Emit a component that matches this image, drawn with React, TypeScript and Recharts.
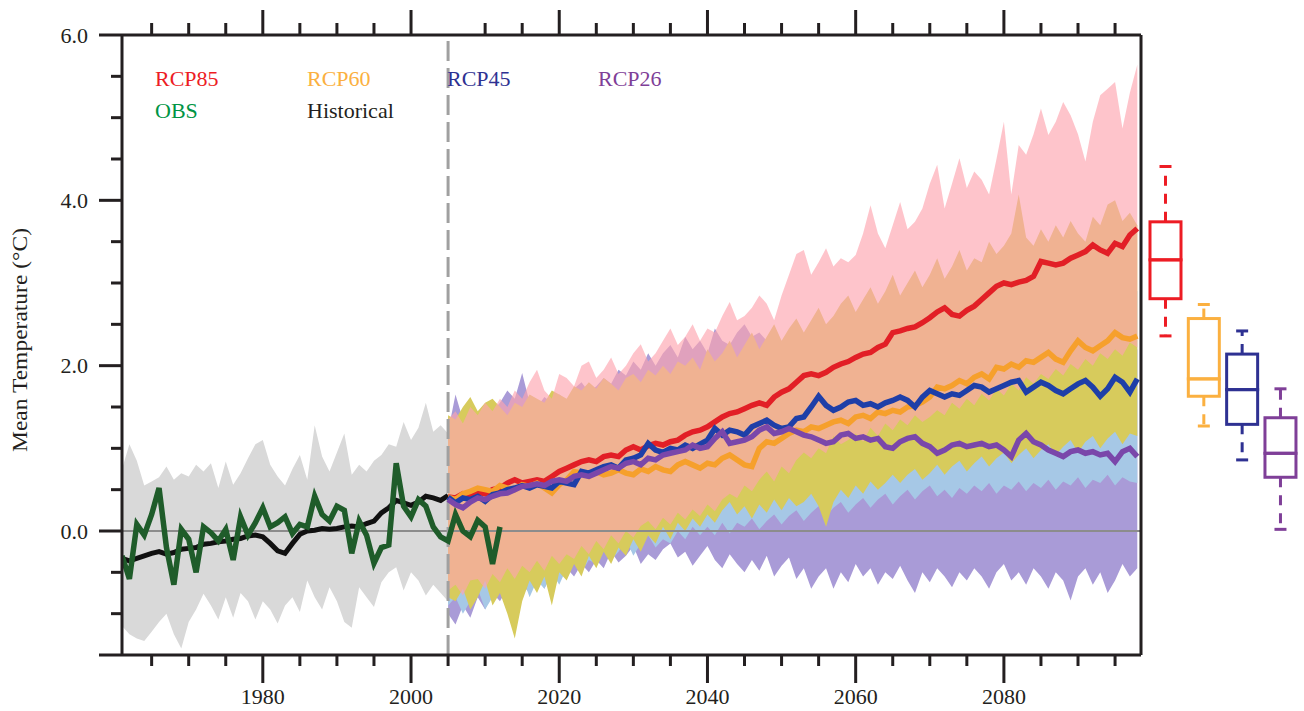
import React from "react";
import { Area, Bar, ComposedChart, Line, ReferenceLine, XAxis, YAxis } from "recharts";

const W = 1304;
const H = 711;
const FONT = '"Liberation Serif", "Times New Roman", serif';
const INK = "#231f20";

// ---- data -------------------------------------------------------------
const HIST_START = 1961; // historical run and its spread
const OBS_START = 1961;
const FUT_START = 2005; // RCP scenarios

const histMean = [
  -0.33, -0.36, -0.33, -0.3, -0.27, -0.25, -0.28, -0.26, -0.22, -0.21,
  -0.2, -0.16, -0.15, -0.13, -0.12, -0.1, -0.09, -0.06, -0.05, -0.07,
  -0.15, -0.24, -0.27, -0.15, -0.04, 0.0, 0.01, 0.03, 0.02, 0.03,
  0.05, 0.06, 0.05, 0.09, 0.12, 0.22, 0.28, 0.37, 0.34, 0.31,
  0.35, 0.42, 0.4, 0.37, 0.43,
];
const histHigh = [
  0.75, 1.05, 0.85, 0.55, 0.6, 0.65, 0.78, 0.62, 0.7, 0.66,
  0.8, 0.72, 0.82, 0.52, 0.84, 0.56, 0.7, 0.88, 1.05, 1.1,
  0.8, 0.66, 0.55, 0.75, 0.92, 0.62, 1.28, 0.9, 0.72, 0.95,
  1.18, 0.68, 0.8, 0.72, 0.85, 0.92, 1.05, 1.02, 1.32, 1.1,
  1.25, 1.55, 1.2, 1.28, 1.18,
];
const histLow = [
  -1.15, -1.25, -1.3, -1.33, -1.22, -1.1, -1.0, -1.25, -1.42, -1.1,
  -0.95, -0.76, -0.9, -1.07, -0.8, -1.05, -0.75, -0.85, -1.07, -0.85,
  -0.95, -1.12, -0.9, -0.8, -0.98, -0.6, -0.8, -0.95, -0.68, -0.85,
  -1.1, -1.17, -0.68, -0.8, -0.92, -0.62, -0.5, -0.44, -0.72, -0.5,
  -0.6, -0.78, -0.65, -0.75, -0.85,
];
const obs = [
  -0.3, -0.58, 0.08, -0.05, 0.2, 0.52, -0.2, -0.65, 0.02, -0.1,
  -0.5, 0.05, -0.02, -0.12, 0.02, -0.35, 0.17, -0.05, 0.1, 0.28,
  0.05, 0.1, 0.17, -0.03, 0.08, 0.05, 0.42, 0.2, 0.12, 0.3,
  0.25, -0.27, 0.12, -0.05, -0.39, -0.2, -0.17, 0.82, 0.3, 0.17,
  0.38, 0.3, 0.05, -0.07, -0.12, 0.2, 0.0, -0.07, 0.13, 0.05,
  -0.4, 0.05,
];

const rcp85 = [
  0.41, 0.4, 0.45, 0.42, 0.47, 0.45, 0.5, 0.52, 0.58, 0.62,
  0.58, 0.6, 0.62, 0.6, 0.66, 0.72, 0.76, 0.8, 0.84, 0.86,
  0.84, 0.9, 0.92, 0.9, 0.98, 1.02, 0.98, 1.03, 1.06, 1.04,
  1.08, 1.1, 1.16, 1.2, 1.22, 1.26, 1.32, 1.38, 1.42, 1.44,
  1.48, 1.52, 1.55, 1.52, 1.62, 1.68, 1.72, 1.8, 1.88, 1.9,
  1.88, 1.92, 1.98, 2.02, 2.05, 2.1, 2.14, 2.16, 2.22, 2.26,
  2.4, 2.42, 2.45, 2.47, 2.52, 2.58, 2.65, 2.7, 2.62, 2.6,
  2.67, 2.72, 2.8, 2.88, 2.96, 3.0, 2.98, 3.01, 3.03, 3.08,
  3.26, 3.24, 3.22, 3.24, 3.3, 3.34, 3.38, 3.46, 3.4, 3.36,
  3.48, 3.44, 3.58, 3.66,
];
const rcp60 = [
  0.41, 0.38, 0.45, 0.48, 0.52, 0.5, 0.48, 0.55, 0.52, 0.5,
  0.56, 0.54, 0.58, 0.52, 0.46, 0.56, 0.62, 0.72, 0.7, 0.66,
  0.72, 0.68, 0.7, 0.74, 0.7, 0.68, 0.75, 0.72, 0.78, 0.74,
  0.72, 0.8, 0.84, 0.8, 0.76, 0.82, 0.8, 0.88, 0.92, 0.86,
  0.8, 0.78, 1.0, 1.08, 1.06, 1.12, 1.18, 1.22, 1.2, 1.26,
  1.24, 1.28, 1.32, 1.34, 1.3, 1.38, 1.4, 1.36, 1.44, 1.42,
  1.46, 1.44, 1.5, 1.52, 1.56, 1.62, 1.74, 1.72, 1.76, 1.82,
  1.78, 1.86, 1.9, 1.84, 1.98, 1.96, 2.02, 1.98, 2.06, 2.04,
  2.1, 2.16, 2.08, 2.04, 2.18, 2.3, 2.22, 2.18, 2.24, 2.3,
  2.4, 2.34, 2.32, 2.36,
];
const rcp45 = [
  0.41, 0.34, 0.4, 0.38, 0.42, 0.36, 0.44, 0.46, 0.5, 0.52,
  0.55, 0.52, 0.56, 0.54, 0.52, 0.6, 0.58, 0.56, 0.72, 0.7,
  0.74, 0.78, 0.8, 0.76, 0.86, 0.88, 0.92, 1.06, 0.98, 0.95,
  1.0, 0.98, 1.04, 1.0, 1.05, 1.1, 1.24, 1.16, 1.22, 1.2,
  1.16, 1.26, 1.3, 1.34, 1.28, 1.24, 1.26, 1.36, 1.38, 1.5,
  1.63, 1.52, 1.46, 1.5, 1.56, 1.58, 1.52, 1.54, 1.5, 1.55,
  1.58, 1.62, 1.58, 1.5, 1.62, 1.7, 1.66, 1.62, 1.66, 1.64,
  1.7, 1.76, 1.74, 1.68, 1.72, 1.76, 1.8, 1.82, 1.68, 1.74,
  1.8, 1.76, 1.7, 1.66, 1.72, 1.78, 1.82, 1.74, 1.63, 1.72,
  1.86, 1.8, 1.68, 1.84,
];
const rcp26 = [
  0.38, 0.32, 0.28, 0.35, 0.4, 0.38, 0.42, 0.45, 0.46, 0.5,
  0.54, 0.55, 0.57, 0.55, 0.6, 0.62, 0.6, 0.66, 0.68, 0.66,
  0.7, 0.74, 0.78, 0.76, 0.82, 0.84, 0.8, 0.88, 0.86, 0.92,
  0.94, 0.96, 0.98, 1.04, 1.0, 1.02, 1.12, 1.2, 1.06, 1.08,
  1.1, 1.14, 1.22, 1.26, 1.18, 1.2, 1.24, 1.2, 1.16, 1.14,
  1.1, 1.06, 1.08, 1.16, 1.18, 1.12, 1.14, 1.1, 1.12, 1.02,
  1.0, 1.08, 1.12, 1.14, 1.06, 1.02, 0.94, 0.98, 1.04, 1.06,
  1.02, 1.04, 1.06, 1.02, 1.04, 0.98, 0.9, 1.1, 1.18, 1.08,
  1.04, 0.98, 0.94, 0.9, 0.96, 0.98, 0.94, 0.96, 0.92, 0.94,
  0.84, 0.96, 1.0, 0.9,
];

const rcp85High = [
  1.35, 1.45, 1.3, 1.5, 1.4, 1.55, 1.45, 1.6, 1.5, 1.7,
  1.6, 1.8, 1.95, 1.7, 1.6, 1.9, 1.85, 1.75, 2.0, 2.05,
  1.85, 1.95, 2.1, 1.9, 2.0, 2.15, 2.26, 2.05, 2.15, 2.3,
  2.45, 2.25, 2.35, 2.5, 2.3, 2.45, 2.4, 2.6, 2.77, 2.55,
  2.6, 2.7, 2.85, 2.75, 2.55, 2.85, 3.1, 3.35, 3.4, 3.1,
  3.25, 3.42, 3.2, 3.3, 3.25, 3.34, 3.6, 3.94, 3.6, 3.42,
  3.7, 3.98, 3.65, 3.74, 3.9, 4.2, 4.43, 3.9, 4.2, 4.51,
  4.15, 4.35, 4.25, 4.07, 4.5, 4.95, 4.07, 4.67, 4.55, 4.8,
  5.11, 4.79, 4.95, 5.19, 5.03, 4.8, 4.47, 4.95, 5.27, 5.35,
  5.43, 4.87, 5.3, 5.64,
];
const rcp85Low = [
  -0.72, -0.65, -0.78, -0.6, -0.58, -0.7, -0.52, -0.62, -0.45, -0.58,
  -0.42, -0.5, -0.36, -0.48, -0.3, -0.4, -0.28, -0.34, -0.18, -0.28,
  -0.12, -0.22, -0.05, -0.15, 0.0, -0.08, 0.06, 0.12, 0.02, 0.16,
  0.08, 0.22, 0.14, 0.26, 0.18, 0.32, 0.24, 0.38, 0.45, 0.4,
  0.55, 0.48, 0.62, 0.72, 0.6, 0.78, 0.7, 0.86, 0.95, 0.88,
  1.0, 0.94, 1.15, 1.05, 1.1, 1.18, 1.08, 1.25, 1.15, 1.3,
  1.22, 1.35, 1.28, 1.4, 1.32, 1.38, 1.46, 1.4, 1.55, 1.48,
  1.6, 1.52, 1.66, 1.58, 1.72, 1.64, 1.78, 1.7, 1.86, 1.78,
  1.9, 1.84, 1.96, 1.88, 2.02, 1.95, 2.08, 2.0, 2.15, 2.08,
  2.2, 2.12, 2.28, 2.22,
];
const rcp60High = [
  1.4, 1.35, 1.5, 1.62, 1.45, 1.55, 1.6, 1.5, 1.4, 1.55,
  1.5, 1.65, 1.6, 1.55, 1.7, 1.65, 1.6, 1.75, 1.7, 1.8,
  1.72, 1.85, 1.78, 1.7, 1.85, 1.9, 1.8, 1.95, 1.88, 2.0,
  1.9, 2.05, 2.0, 2.1, 1.95, 2.2, 2.05, 2.15, 2.3, 2.1,
  2.25, 2.4, 2.2, 2.35, 2.5, 2.3, 2.45, 2.57, 2.4, 2.55,
  2.7, 2.5, 2.6, 2.75, 2.85, 2.65, 2.8, 2.95, 2.75, 2.9,
  3.1, 2.85, 3.0, 3.15, 2.95, 3.1, 3.3, 3.05, 3.2, 3.4,
  3.15, 3.3, 3.25, 3.5, 3.35, 3.45, 3.6, 4.07, 3.55, 3.45,
  3.65, 3.5, 3.7, 3.55, 3.75, 3.6, 3.5, 3.8, 3.7, 3.95,
  4.0, 3.75, 3.85, 3.7,
];
const rcp60Low = [
  -0.8, -0.85, -0.7, -0.95, -0.8, -0.6, -0.9, -0.75, -1.0, -1.3,
  -0.85, -0.6, -0.75, -0.55, -0.9, -0.5, -0.6, -0.4, -0.55, -0.3,
  -0.45, -0.25, -0.4, -0.2, -0.3, -0.1, -0.25, -0.05, -0.15, 0.05,
  -0.1, 0.1, 0.0, 0.15, 0.05, 0.2, 0.1, 0.25, 0.35, 0.2,
  0.3, 0.15, 0.32, 0.22, 0.38, 0.25, 0.4, 0.3, 0.35, 0.45,
  0.3, 0.05, 0.35, 0.5, 0.4, 0.55, 0.45, 0.6, 0.5, 0.58,
  0.68, 0.58, 0.68, 0.75, 0.62, 0.7, 0.8, 0.68, 0.78, 0.85,
  0.72, 0.82, 0.9, 0.78, 0.88, 0.95, 0.82, 0.92, 1.0, 0.88,
  0.98, 1.05, 0.92, 1.02, 1.1, 0.95, 1.08, 1.15, 1.0, 1.12,
  1.2, 1.05, 1.18, 1.15,
];
const rcp45High = [
  1.25, 1.3, 1.2, 1.45, 1.35, 1.4, 1.5, 1.3, 1.25, 1.4,
  1.35, 1.45, 1.4, 1.35, 1.5, 1.45, 1.4, 1.55, 1.5, 1.6,
  1.5, 1.65, 1.55, 1.5, 1.6, 1.7, 1.6, 1.7, 1.65, 1.75,
  1.65, 1.8, 1.75, 1.85, 1.7, 1.9, 1.8, 1.9, 2.0, 1.85,
  1.95, 2.05, 1.95, 2.05, 2.15, 2.0, 2.1, 2.2, 2.1, 2.2,
  2.3, 2.15, 2.25, 2.3, 2.4, 2.25, 2.35, 2.45, 2.3, 2.4,
  2.55, 2.4, 2.5, 2.6, 2.45, 2.55, 2.65, 2.5, 2.6, 2.7,
  2.55, 2.65, 2.6, 2.75, 2.65, 2.7, 2.8, 2.9, 2.75, 2.7,
  2.85, 2.75, 2.9, 2.8, 2.95, 2.85, 2.75, 2.95, 2.9, 3.05,
  3.1, 2.95, 3.0, 2.9,
];
const rcp45Low = [
  -0.9, -0.8, -1.0, -0.85, -0.7, -0.95, -0.8, -0.65, -0.85, -0.7,
  -0.55, -0.8, -0.6, -0.7, -0.5, -0.65, -0.45, -0.3, -0.5, -0.35,
  -0.4, -0.2, -0.35, -0.25, -0.1, -0.3, -0.15, -0.05, -0.2, -0.1,
  -0.15, 0.0, -0.1, 0.05, -0.05, 0.05, -0.05, 0.1, -0.03, 0.1,
  0.05, 0.15, 0.02, 0.12, 0.2, 0.08, 0.18, 0.25, 0.12, 0.22,
  0.3, 0.18, 0.28, 0.35, 0.22, 0.32, 0.4, 0.28, 0.38, 0.45,
  0.32, 0.42, 0.5, 0.38, 0.48, 0.55, 0.42, 0.5, 0.4, 0.52,
  0.45, 0.55, 0.48, 0.58, 0.45, 0.55, 0.5, 0.6, 0.48, 0.58,
  0.52, 0.62, 0.5, 0.6, 0.55, 0.65, 0.52, 0.62, 0.58, 0.68,
  0.55, 0.65, 0.6, 0.58,
];
const rcp26High = [
  1.2, 1.65, 1.35, 1.4, 1.3, 1.5, 1.45, 1.55, 1.7, 1.6,
  1.91, 1.55, 1.5, 1.62, 1.55, 1.65, 1.58, 1.72, 1.8, 1.68,
  1.75, 1.85, 1.78, 1.95, 1.88, 2.05, 1.95, 2.15, 2.0, 2.15,
  2.25, 2.1, 2.35, 2.2, 2.3, 2.15, 2.45, 2.3, 2.25, 2.4,
  2.5, 2.35, 2.4, 2.3, 2.35, 2.25, 2.4, 2.3, 2.2, 2.35,
  2.35, 2.25, 2.4, 2.3, 2.2, 2.3, 2.25, 2.35, 2.2, 2.3,
  2.25, 2.15, 2.3, 2.2, 2.25, 2.1, 2.2, 2.3, 2.15, 2.25,
  2.2, 2.3, 2.15, 2.25, 2.2, 2.1, 2.25, 2.35, 2.2, 2.15,
  2.25, 2.2, 2.1, 2.3, 2.2, 2.15, 2.25, 2.2, 2.3, 2.15,
  2.2, 2.25, 2.1, 2.2,
];
const rcp26Low = [
  -1.0, -1.13, -0.9, -1.05, -0.8, -0.95, -0.75, -0.85, -0.7, -0.9,
  -0.65, -0.75, -0.55, -0.7, -0.5, -0.6, -0.45, -0.55, -0.4, -0.5,
  -0.35, -0.45, -0.25, -0.38, -0.3, -0.18, -0.4, -0.28, -0.35, -0.22,
  -0.15, -0.32, -0.25, -0.42, -0.3, -0.18, -0.35, -0.45, -0.28, -0.4,
  -0.5, -0.35, -0.48, -0.3, -0.55, -0.42, -0.32, -0.58, -0.45, -0.7,
  -0.55, -0.45, -0.7, -0.5, -0.62, -0.4, -0.55, -0.45, -0.65, -0.5,
  -0.58, -0.42, -0.6, -0.75, -0.5, -0.62, -0.45, -0.55, -0.68, -0.5,
  -0.6, -0.45, -0.55, -0.7, -0.5, -0.4, -0.6, -0.5, -0.65, -0.45,
  -0.55, -0.7, -0.5, -0.6, -0.84, -0.55, -0.45, -0.65, -0.5, -0.75,
  -0.6, -0.4, -0.55, -0.45,
];

// 2090s spread per scenario (box plots on the right)
const boxNames = ["RCP85", "RCP60", "RCP45", "RCP26"];
const boxMin = [2.36, 1.27, 0.86, 0.02];
const boxQ1 = [2.81, 1.63, 1.29, 0.65];
const boxMed = [3.28, 1.84, 1.71, 0.94];
const boxQ3 = [3.74, 2.57, 2.14, 1.37];
const boxMax = [4.41, 2.74, 2.42, 1.72];

// ticks
const xTicksBottom = [1965, 1970, 1975, 1980, 1985, 1990, 1995, 2000, 2005, 2010, 2015, 2020, 2025, 2030, 2035, 2040, 2045, 2050, 2055, 2060, 2065, 2070, 2075, 2080, 2085, 2090, 2095];
const xTicksTop = [1965, 1970, 1975, 1980, 1985, 1990, 1995, 2000, 2010, 2015, 2020, 2025, 2030, 2035, 2040, 2045, 2050, 2055, 2060, 2065, 2070, 2075, 2080, 2085, 2090, 2095];
const xMajor = [1980, 2000, 2020, 2040, 2060, 2080];
const yTicks = [-1.5, -1, -0.5, 0, 0.5, 1, 1.5, 2, 2.5, 3, 3.5, 4, 4.5, 5, 5.5, 6];
const yMajor = [-1.5, 0, 2, 4, 6];
const yLabeled = [0, 2, 4, 6];

// ---- table for recharts ----------------------------------------------
const pick = (arr: number[], i: number) => (i >= 0 && i < arr.length ? arr[i] : undefined);
const band = (lo: number[], hi: number[], i: number) =>
  i >= 0 && i < lo.length ? [lo[i], hi[i]] : undefined;

const rows: any[] = [];
for (let year = 1961; year <= 2098; year++) {
  const h = year - HIST_START;
  const o = year - OBS_START;
  const f = year - FUT_START;
  rows.push({
    year,
    histBand: band(histLow, histHigh, h),
    hist: pick(histMean, h),
    obs: pick(obs, o),
    b26: band(rcp26Low, rcp26High, f),
    b45: band(rcp45Low, rcp45High, f),
    b60: band(rcp60Low, rcp60High, f),
    b85: band(rcp85Low, rcp85High, f),
    rcp26: pick(rcp26, f),
    rcp45: pick(rcp45, f),
    rcp60: pick(rcp60, f),
    rcp85: pick(rcp85, f),
  });
}

const boxRows = boxNames.map((name, i) => ({
  name,
  base: boxMin[i],
  lowWhisker: boxQ1[i] - boxMin[i],
  lowBox: boxMed[i] - boxQ1[i],
  highBox: boxQ3[i] - boxMed[i],
  highWhisker: boxMax[i] - boxQ3[i],
}));
const boxColors = ["#ed1c24", "#fbb040", "#2e3192", "#7f3f98"];

// ---- axis ticks --------------------------------------------------------
function BottomTick(p: any) {
  const major = xMajor.includes(p.payload.value);
  return (
    <g>
      <line x1={p.x} x2={p.x} y1={p.y} y2={p.y + (major ? 28 : 11)} stroke={INK} strokeWidth={3} />
      {major && (
        <text x={p.x} y={p.y + 49} textAnchor="middle" fontSize={22} fontFamily={FONT} fill={INK}>
          {p.payload.value}
        </text>
      )}
    </g>
  );
}

function TopTick(p: any) {
  const major = xMajor.includes(p.payload.value);
  return <line x1={p.x} x2={p.x} y1={p.y} y2={p.y - (major ? 25 : 12)} stroke={INK} strokeWidth={3} />;
}

function LeftTick(p: any) {
  const v = p.payload.value;
  const major = yMajor.includes(v);
  return (
    <g>
      <line x1={p.x - (major ? 23 : 11)} x2={p.x} y1={p.y} y2={p.y} stroke={INK} strokeWidth={3} />
      {yLabeled.includes(v) && (
        <text x={p.x - 34} y={p.y + 7.5} textAnchor="end" fontSize={22} fontFamily={FONT} fill={INK}>
          {v.toFixed(1)}
        </text>
      )}
    </g>
  );
}

// ---- box plot pieces -----------------------------------------------------
function Whisker(p: any, atTop: boolean) {
  const c = boxColors[p.index];
  const cx = p.x + p.width / 2;
  const capY = atTop ? p.y : p.y + p.height;
  const boxY = atTop ? p.y + p.height : p.y;
  return (
    <g>
      <line x1={cx} x2={cx} y1={boxY} y2={capY} stroke={c} strokeWidth={3} strokeDasharray="10 8" />
      <line x1={cx - 6} x2={cx + 6} y1={capY} y2={capY} stroke={c} strokeWidth={3} />
    </g>
  );
}

function BoxPart(p: any) {
  return (
    <rect x={p.x} y={p.y} width={p.width} height={p.height} fill="none" stroke={boxColors[p.index]} strokeWidth={3} />
  );
}

const legend = [
  { text: "RCP85", x: 155, y: 86, color: "#ed1c24" },
  { text: "RCP60", x: 307, y: 86, color: "#fbb040" },
  { text: "RCP45", x: 447, y: 86, color: "#2e3192" },
  { text: "RCP26", x: 598, y: 86, color: "#7f3f98" },
  { text: "OBS", x: 155, y: 118, color: "#009444" },
  { text: "Historical", x: 307, y: 118, color: INK },
];

export default function App() {
  return (
    <div style={{ position: "absolute", left: 0, top: 0, width: W, height: H, background: "#fff", fontFamily: FONT }}>
      <ComposedChart width={W} height={H} data={rows} margin={{ top: 5, right: 162, bottom: 6, left: 2 }}>
        <XAxis
          xAxisId="t"
          orientation="top"
          dataKey="year"
          type="number"
          domain={[1961, 2098.5]}
          allowDataOverflow
          ticks={xTicksTop}
          interval={0}
          height={30}
          tickLine={false}
          tickSize={0}
          tickMargin={0}
          tick={TopTick}
          axisLine={{ stroke: INK, strokeWidth: 3 }}
        />
        <XAxis
          xAxisId="b"
          dataKey="year"
          type="number"
          domain={[1961, 2098.5]}
          allowDataOverflow
          ticks={xTicksBottom}
          interval={0}
          height={50}
          tickLine={false}
          tickSize={0}
          tickMargin={0}
          tick={BottomTick}
          axisLine={{ stroke: INK, strokeWidth: 3 }}
        />
        <YAxis
          yAxisId="l"
          type="number"
          domain={[-1.5, 6]}
          allowDataOverflow
          ticks={yTicks}
          interval={0}
          width={120}
          tickLine={false}
          tickSize={0}
          tickMargin={0}
          tick={LeftTick}
          axisLine={{ stroke: INK, strokeWidth: 3 }}
        />
        <YAxis
          yAxisId="r"
          orientation="right"
          type="number"
          domain={[-1.5, 6]}
          width={1}
          tick={false}
          tickLine={false}
          axisLine={{ stroke: INK, strokeWidth: 3 }}
        />

        <Area xAxisId="b" yAxisId="l" type="linear" dataKey="histBand" stroke="none" fill="#d9d9d9" fillOpacity={1} dot={false} activeDot={false} isAnimationActive={false} />
        <Area xAxisId="b" yAxisId="l" type="linear" dataKey="b26" stroke="none" fill="#a99bd7" fillOpacity={1} dot={false} activeDot={false} isAnimationActive={false} />
        <Area xAxisId="b" yAxisId="l" type="linear" dataKey="b45" stroke="none" fill="#a6c8e6" fillOpacity={1} dot={false} activeDot={false} isAnimationActive={false} />
        <Area xAxisId="b" yAxisId="l" type="linear" dataKey="b60" stroke="none" fill="#d7cb5c" fillOpacity={1} dot={false} activeDot={false} isAnimationActive={false} />
        <Area xAxisId="b" yAxisId="l" type="linear" dataKey="b85" stroke="none" fill="#fda4af" fillOpacity={0.65} dot={false} activeDot={false} isAnimationActive={false} />

        <ReferenceLine xAxisId="b" yAxisId="l" y={0} stroke="#8c8c8c" strokeWidth={2} />
        <ReferenceLine xAxisId="b" yAxisId="l" x={2005} stroke="#a0a0a0" strokeWidth={3} strokeDasharray="20 7" />

        <Line xAxisId="b" yAxisId="l" type="linear" dataKey="hist" stroke="#111111" strokeWidth={5} dot={false} activeDot={false} isAnimationActive={false} />
        <Line xAxisId="b" yAxisId="l" type="linear" dataKey="obs" stroke="#1f5c2a" strokeWidth={5.5} dot={false} activeDot={false} isAnimationActive={false} />
        <Line xAxisId="b" yAxisId="l" type="linear" dataKey="rcp85" stroke="#e21f26" strokeWidth={5.5} dot={false} activeDot={false} isAnimationActive={false} />
        <Line xAxisId="b" yAxisId="l" type="linear" dataKey="rcp60" stroke="#f6a02c" strokeWidth={5.5} dot={false} activeDot={false} isAnimationActive={false} />
        <Line xAxisId="b" yAxisId="l" type="linear" dataKey="rcp45" stroke="#1e3fa8" strokeWidth={5.5} dot={false} activeDot={false} isAnimationActive={false} />
        <Line xAxisId="b" yAxisId="l" type="linear" dataKey="rcp26" stroke="#7a47aa" strokeWidth={5.5} dot={false} activeDot={false} isAnimationActive={false} />
      </ComposedChart>

      <div style={{ position: "absolute", left: 1145.8, top: 0 }}>
        <ComposedChart width={153.3} height={H} data={boxRows} margin={{ top: 35, right: 0, bottom: 56, left: 0 }}>
          <XAxis dataKey="name" type="category" hide />
          <YAxis type="number" domain={[-1.5, 6]} allowDataOverflow hide />
          <Bar dataKey="base" stackId="box" barSize={31} shape={() => <g />} isAnimationActive={false} />
          <Bar dataKey="lowWhisker" stackId="box" barSize={31} shape={(p: any) => Whisker(p, false)} isAnimationActive={false} />
          <Bar dataKey="lowBox" stackId="box" barSize={31} shape={BoxPart} isAnimationActive={false} />
          <Bar dataKey="highBox" stackId="box" barSize={31} shape={BoxPart} isAnimationActive={false} />
          <Bar dataKey="highWhisker" stackId="box" barSize={31} shape={(p: any) => Whisker(p, true)} isAnimationActive={false} />
        </ComposedChart>
      </div>

      <svg width={W} height={H} style={{ position: "absolute", left: 0, top: 0, pointerEvents: "none" }}>
        {legend.map((l) => (
          <text key={l.text} x={l.x} y={l.y} fontSize={22} fontFamily={FONT} fill={l.color}>
            {l.text}
          </text>
        ))}
        <text
          transform="translate(27,340) rotate(-90)"
          textAnchor="middle"
          fontSize={20}
          fontFamily={FONT}
          fill={INK}
          textLength={224}
          lengthAdjust="spacingAndGlyphs"
        >
          Mean Temperature (°C)
        </text>
      </svg>
    </div>
  );
}
